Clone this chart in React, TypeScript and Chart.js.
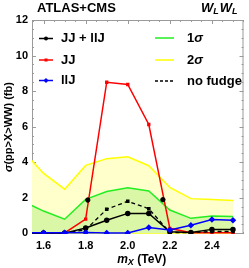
import React, { useEffect, useRef } from "react";
import { Chart, registerables } from "chart.js";

Chart.register(...registerables);

const massTeV = [1.5, 1.6, 1.7, 1.8, 1.9, 2.0, 2.1, 2.2, 2.3, 2.4, 2.5];
const twoSigma = [4.65, 3.37, 2.48, 3.82, 4.2, 4.3, 3.8, 2.58, 1.95, 1.9, 1.85];
const oneSigma = [1.81, 1.25, 0.79, 1.91, 2.35, 2.56, 2.38, 1.31, 0.84, 0.97, 0.94];
const lowerBand = [0, 0, 0, 0, 0, 0, 0, 0, 0, 0, 0];
const jj = [0, 0, 0.02, 0.8, 8.5, 8.37, 6.12, 0.28, 0.03, 0.03, 0.03];
const jjPlusLlj = [0, 0.01, 0.01, 0.3, 0.73, 1.12, 1.12, 0.08, 0.05, 0.22, 0.22];
const noFudge = [0, 0.01, 0.01, 0.2, 1.35, 1.8, 1.38, 0.05, 0.03, 0.1, 0.1];
const llj = [0.02, 0.03, 0.03, 0.04, 0.02, 0.02, 0.32, 0.19, 0.45, 0.77, 0.73];
const markX = [1.81, 2.167];
const markY = [1.87, 1.89];

const xTicks = [1.6, 1.8, 2.0, 2.2, 2.4];
const yTicks = [0, 2, 4, 6, 8, 10, 12];

const FONT = "'Liberation Sans', Arial, sans-serif";

const pts = (ys: number[]) => massTeV.map((x, i) => ({ x, y: ys[i] }));

const framePlugin = {
  id: "frame",
  beforeDatasetsDraw(chart: any) {
    const { ctx, chartArea: a, scales } = chart;
    const xs = scales.x;
    const ys = scales.y;
    ctx.save();
    ctx.strokeStyle = "#9a9a9a";
    ctx.lineWidth = 1;
    ctx.strokeRect(a.left + 0.5, a.top + 0.5, a.right - a.left - 1, a.bottom - a.top - 1);
    ctx.beginPath();
    for (let v = 1.55; v <= 2.55001; v += 0.05) {
      const px = Math.round(xs.getPixelForValue(v)) + 0.5;
      const major = xTicks.some((t) => Math.abs(t - v) < 1e-6);
      const len = major ? 4 : 2;
      ctx.moveTo(px, a.bottom);
      ctx.lineTo(px, a.bottom - len);
      ctx.moveTo(px, a.top);
      ctx.lineTo(px, a.top + len);
    }
    for (let v = 0; v <= 12.0001; v += 0.5) {
      const py = Math.round(ys.getPixelForValue(v)) + 0.5;
      const major = Math.abs(v / 2 - Math.round(v / 2)) < 1e-6;
      const len = major ? 4 : 2;
      ctx.moveTo(a.left, py);
      ctx.lineTo(a.left + len, py);
      ctx.moveTo(a.right, py);
      ctx.lineTo(a.right - len, py);
    }
    ctx.stroke();
    ctx.restore();
  },
  afterDraw(chart: any) {
    const { ctx, chartArea: a } = chart;
    ctx.save();
    ctx.fillStyle = "#000";
    ctx.textBaseline = "middle";
    ctx.font = `bold 13px ${FONT}`;
    ctx.textAlign = "left";
    ctx.fillText("ATLAS+CMS", 37, 8);
    let x = 201;
    const drawWL = () => {
      ctx.font = `italic bold 13px ${FONT}`;
      ctx.fillText("W", x, 8);
      x += ctx.measureText("W").width;
      ctx.font = `italic bold 9px ${FONT}`;
      ctx.fillText("L", x, 12);
      x += ctx.measureText("L").width + 1;
    };
    drawWL();
    drawWL();
    ctx.font = `italic bold 12px ${FONT}`;
    const cx = (a.left + a.right) / 2;
    const mW = ctx.measureText("m").width;
    ctx.font = `italic bold 9px ${FONT}`;
    const sW = ctx.measureText("X").width;
    ctx.font = `bold 12px ${FONT}`;
    const rW = ctx.measureText(" (TeV)").width;
    let tx = cx - (mW + sW + rW) / 2 + 4;
    ctx.font = `italic bold 12px ${FONT}`;
    ctx.fillText("m", tx, 260);
    tx += mW;
    ctx.font = `italic bold 9px ${FONT}`;
    ctx.fillText("X", tx, 263);
    tx += sW;
    ctx.font = `bold 12px ${FONT}`;
    ctx.fillText(" (TeV)", tx, 260);
    ctx.save();
    ctx.translate(9, (a.top + a.bottom) / 2);
    ctx.rotate(-Math.PI / 2);
    ctx.font = `italic bold 11px ${FONT}`;
    const sigW = ctx.measureText("σ").width;
    ctx.font = `bold 11px ${FONT}`;
    const restW = ctx.measureText("(pp>X>WW) (fb)").width;
    const yx = -(sigW + restW) / 2;
    ctx.font = `italic bold 11px ${FONT}`;
    ctx.fillText("σ", yx, 0);
    ctx.font = `bold 11px ${FONT}`;
    ctx.fillText("(pp>X>WW) (fb)", yx + sigW, 0);
    ctx.restore();

    const items: any[] = [
      { x0: 39, x1: 53, tx: 61, y: 38.5, color: "#000", text: "JJ + llJ", marker: "circle" },
      { x0: 39, x1: 53, tx: 61, y: 60, color: "#ff0000", text: "JJ", marker: "rect" },
      { x0: 39, x1: 53, tx: 61, y: 80.5, color: "#0000ff", text: "llJ", marker: "diamond" },
      { x0: 155, x1: 174, tx: 187, y: 38, color: "#22ee22", text: "1σ", marker: null },
      { x0: 155, x1: 174, tx: 187, y: 60, color: "#ffff00", text: "2σ", marker: null },
      { x0: 155, x1: 174, tx: 187, y: 81, color: "#000", text: "no fudge", marker: null, dash: true },
    ];
    for (const it of items) {
      ctx.strokeStyle = it.color;
      ctx.lineWidth = 1.5;
      ctx.setLineDash(it.dash ? [3, 2] : []);
      ctx.beginPath();
      ctx.moveTo(it.x0, it.y);
      ctx.lineTo(it.x1, it.y);
      ctx.stroke();
      ctx.setLineDash([]);
      const mx = (it.x0 + it.x1) / 2;
      ctx.fillStyle = it.color;
      if (it.marker === "circle") {
        ctx.beginPath();
        ctx.arc(mx, it.y, 2, 0, Math.PI * 2);
        ctx.fill();
      } else if (it.marker === "rect") {
        ctx.fillRect(mx - 1.5, it.y - 1.5, 3, 3);
      } else if (it.marker === "diamond") {
        ctx.beginPath();
        ctx.moveTo(mx, it.y - 2.5);
        ctx.lineTo(mx + 2.5, it.y);
        ctx.lineTo(mx, it.y + 2.5);
        ctx.lineTo(mx - 2.5, it.y);
        ctx.closePath();
        ctx.fill();
      }
      ctx.fillStyle = "#000";
      ctx.textAlign = "left";
      if (it.text.endsWith("σ")) {
        ctx.font = `bold 13px ${FONT}`;
        const d = it.text.slice(0, -1);
        ctx.fillText(d, it.tx, it.y);
        const w = ctx.measureText(d).width;
        ctx.font = `italic bold 13px ${FONT}`;
        ctx.fillText("σ", it.tx + w, it.y);
      } else {
        ctx.font = `bold 13px ${FONT}`;
        ctx.fillText(it.text, it.tx, it.y);
      }
    }
    ctx.restore();
  },
};

export default function App() {
  const ref = useRef<HTMLCanvasElement>(null);
  useEffect(() => {
    if (!ref.current) return;
    const chart = new Chart(ref.current, {
      type: "line",
      data: {
        datasets: [
          {
            label: "2σ low",
            data: pts(lowerBand),
            borderColor: "#ffff00",
            borderWidth: 1.5,
            pointRadius: 0,
            fill: false,
            order: 12,
          },
          {
            label: "2σ",
            data: pts(twoSigma),
            borderColor: "#ffff00",
            backgroundColor: "#ffffcc",
            borderWidth: 1.5,
            pointRadius: 0,
            fill: "origin",
            order: 11,
          },
          {
            label: "1σ",
            data: pts(oneSigma),
            borderColor: "#22ee22",
            backgroundColor: "#d9f7a6",
            borderWidth: 1.5,
            pointRadius: 0,
            fill: "origin",
            order: 10,
          },
          {
            label: "JJ",
            data: pts(jj),
            borderColor: "#ff0000",
            backgroundColor: "#ff0000",
            borderWidth: 1.5,
            pointStyle: "rect",
            pointRadius: 1.3,
            fill: false,
            order: 5,
          },
          {
            label: "no fudge",
            data: pts(noFudge),
            borderColor: "#000",
            backgroundColor: "#000",
            borderWidth: 1.3,
            borderDash: [4, 3],
            pointStyle: "rect",
            pointRadius: 1.6,
            fill: false,
            order: 4,
          },
          {
            label: "JJ + llJ",
            data: pts(jjPlusLlj),
            borderColor: "#000",
            backgroundColor: "#000",
            borderWidth: 1.5,
            pointRadius: 2,
            fill: false,
            order: 3,
          },
          {
            label: "llJ",
            data: pts(llj),
            borderColor: "#0000ff",
            backgroundColor: "#0000ff",
            borderWidth: 1.5,
            pointStyle: "rectRot",
            pointRadius: 2.2,
            fill: false,
            order: 2,
          },
          {
            label: "marks",
            data: markX.map((x, i) => ({ x, y: markY[i] })),
            showLine: false,
            borderColor: "#000",
            backgroundColor: "#000",
            pointRadius: 2.2,
            order: 1,
          },
        ],
      },
      options: {
        animation: false,
        responsive: false,
        maintainAspectRatio: false,
        layout: { padding: { top: 20, right: 1, left: 0, bottom: 0 } },
        plugins: { legend: { display: false }, tooltip: { enabled: false } },
        elements: { line: { tension: 0 } },
        scales: {
          x: {
            type: "linear",
            min: 1.545,
            max: 2.55,
            grid: { display: false, drawTicks: false },
            border: { display: false },
            afterBuildTicks: (s: any) => {
              s.ticks = xTicks.map((v) => ({ value: v }));
            },
            afterFit: (s: any) => {
              s.height = 34;
            },
            ticks: {
              padding: 5,
              maxRotation: 0,
              autoSkip: false,
              color: "#000",
              font: { family: FONT, size: 11, weight: "bold" },
              callback: (v: any) => Number(v).toFixed(1),
            },
          },
          y: {
            type: "linear",
            min: -0.04,
            max: 12,
            grid: { display: false, drawTicks: false },
            border: { display: false },
            afterBuildTicks: (s: any) => {
              s.ticks = yTicks.map((v) => ({ value: v }));
            },
            afterFit: (s: any) => {
              s.width = 32;
            },
            ticks: {
              padding: 4,
              autoSkip: false,
              color: "#000",
              font: { family: FONT, size: 11, weight: "bold" },
              callback: (v: any) => String(v),
            },
          },
        },
      } as any,
      plugins: [framePlugin],
    });
    return () => chart.destroy();
  }, []);
  return (
    <div style={{ position: "fixed", left: 0, top: 0, width: 249, height: 268, background: "#fff" }}>
      <canvas ref={ref} width={249} height={268} style={{ width: 249, height: 268, display: "block" }} />
    </div>
  );
}
